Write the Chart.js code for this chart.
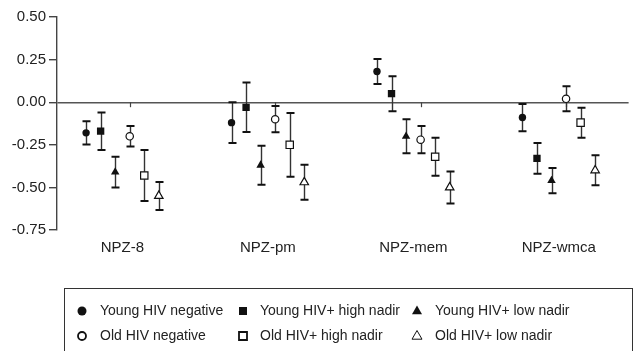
<!DOCTYPE html>
<html>
<head>
<meta charset="utf-8">
<script src="https://cdn.jsdelivr.net/npm/chart.js@4.4.1/dist/chart.umd.min.js"></script>
<style>
  body { margin: 0; background: #fff; }
  #wrap { width: 635px; height: 351px; }
</style>
</head>
<body>
<div id="wrap"><canvas id="chart" width="635" height="351"></canvas></div>
<script>
// categories and tick labels
const categories = ['NPZ-8', 'NPZ-pm', 'NPZ-mem', 'NPZ-wmca'];
const yTicks = [0.5, 0.25, 0, -0.25, -0.5, -0.75];
const seriesNames = [
    'Young HIV negative', 'Young HIV+ high nadir', 'Young HIV+ low nadir',
    'Old HIV negative', 'Old HIV+ high nadir', 'Old HIV+ low nadir'
];

// means and half-widths of the error bars, one value per category
const youngNegMean = [-0.18, -0.12, 0.18, -0.09];
const youngNegErr = [0.068, 0.12, 0.073, 0.08];
const youngHighMean = [-0.17, -0.03, 0.05, -0.33];
const youngHighErr = [0.11, 0.145, 0.103, 0.09];
const youngLowMean = [-0.41, -0.37, -0.20, -0.46];
const youngLowErr = [0.09, 0.115, 0.10, 0.074];
const oldNegMean = [-0.20, -0.10, -0.22, 0.02];
const oldNegErr = [0.06, 0.077, 0.08, 0.073];
const oldHighMean = [-0.43, -0.25, -0.32, -0.12];
const oldHighErr = [0.15, 0.187, 0.112, 0.088];
const oldLowMean = [-0.55, -0.47, -0.50, -0.40];
const oldLowErr = [0.082, 0.103, 0.094, 0.088];

const means = [youngNegMean, youngHighMean, youngLowMean, oldNegMean, oldHighMean, oldLowMean];
const errs = [youngNegErr, youngHighErr, youngLowErr, oldNegErr, oldHighErr, oldLowErr];
const shapes = ['circle', 'rect', 'triangle', 'circle', 'rect', 'triangle'];
const filled = [true, true, true, false, false, false];

const groupStep = 0.1;   // spacing of the six groups inside a category
const radii = { circle: 3.7, rect: 5.2, triangle: 4.9 };
const FONT = '"Liberation Sans", Arial, Helvetica, sans-serif';

const datasets = seriesNames.map((name, si) => ({
    label: name,
    data: categories.map((c, ci) => ({
        x: ci + (si - 2.5) * groupStep,
        y: means[si][ci],
        err: errs[si][ci]
    })),
    pointStyle: shapes[si],
    pointRadius: radii[shapes[si]],
    pointHoverRadius: radii[shapes[si]],
    backgroundColor: filled[si] ? '#111' : '#fff',
    borderColor: '#111',
    borderWidth: filled[si] ? 0 : 1.2
}));

// error bars under the markers, small ticks on the zero line
const errorBars = {
    id: 'errorBars',
    beforeDatasetsDraw(chart) {
        const ctx = chart.ctx;
        const xs = chart.scales.x, ys = chart.scales.y;
        ctx.save();
        const z = ys.getPixelForValue(0);
        ctx.strokeStyle = '#444';
        ctx.lineWidth = 1.2;
        categories.forEach((c, ci) => {
            const px = Math.round(xs.getPixelForValue(ci + 0.05)) + 0.5;
            ctx.beginPath();
            ctx.moveTo(px, z);
            ctx.lineTo(px, z + 5);
            ctx.stroke();
        });
        chart.data.datasets.forEach(ds => {
            ds.data.forEach(p => {
                const px = Math.round(xs.getPixelForValue(p.x)) + 0.5;
                const top = ys.getPixelForValue(p.y + p.err);
                const bot = ys.getPixelForValue(p.y - p.err);
                ctx.strokeStyle = '#333';
                ctx.lineWidth = 1.4;
                ctx.beginPath();
                ctx.moveTo(px, top);
                ctx.lineTo(px, bot);
                ctx.stroke();
                ctx.strokeStyle = '#111';
                ctx.lineWidth = 2;
                ctx.beginPath();
                ctx.moveTo(px - 4, top);
                ctx.lineTo(px + 4, top);
                ctx.moveTo(px - 4, bot);
                ctx.lineTo(px + 4, bot);
                ctx.stroke();
            });
        });
        ctx.restore();
    }
};

function drawMarker(ctx, shape, fill, x, y) {
    ctx.beginPath();
    if (shape === 'circle') {
        ctx.arc(x, y, fill ? 4.5 : 4, 0, Math.PI * 2);
    } else if (shape === 'rect') {
        ctx.rect(x - 4, y - 4, 8, 8);
    } else {
        ctx.moveTo(x, y - 5.5);
        ctx.lineTo(x + 5, y + 3.2);
        ctx.lineTo(x - 5, y + 3.2);
        ctx.closePath();
    }
    ctx.fillStyle = fill ? '#111' : '#fff';
    ctx.fill();
    if (!fill) {
        ctx.strokeStyle = '#111';
        ctx.lineWidth = shape === 'triangle' ? 1 : 1.8;
        ctx.stroke();
    }
}

// boxed legend, two rows of three
const boxLegend = {
    id: 'boxLegend',
    afterDraw(chart) {
        const ctx = chart.ctx;
        ctx.save();
        ctx.strokeStyle = '#333';
        ctx.lineWidth = 1;
        ctx.strokeRect(64.5, 288.5, 568, 80);
        const colMarker = [82, 243, 417];
        const colText = [100, 260, 435];
        const rowY = [311, 336];
        ctx.font = '14px ' + FONT;
        ctx.textBaseline = 'middle';
        seriesNames.forEach((name, si) => {
            const col = si % 3, row = Math.floor(si / 3);
            drawMarker(ctx, shapes[si], filled[si], colMarker[col], rowY[row]);
            ctx.fillStyle = '#222';
            ctx.fillText(name, colText[col], rowY[row]);
        });
        ctx.restore();
    }
};

new Chart(document.getElementById('chart'), {
    type: 'scatter',
    data: { datasets: datasets },
    plugins: [errorBars, boxLegend],
    options: {
        responsive: false,
        animation: false,
        layout: { padding: { top: 17, right: 0, left: 0, bottom: 0 } },
        plugins: {
            legend: { display: false },
            tooltip: { enabled: false }
        },
        scales: {
            x: {
                type: 'linear',
                min: -0.45,
                max: 3.48,
                afterBuildTicks: function(scale) {
                    scale.ticks = categories.map((c, i) => ({ value: i }));
                },
                afterFit: function(scale) {
                    scale.height = 121;
                },
                ticks: {
                    autoSkip: false,
                    maxRotation: 0,
                    padding: 9,
                    color: '#222',
                    font: { family: FONT, size: 15 },
                    callback: function(value) {
                        return categories[value];
                    }
                },
                grid: { display: false, drawTicks: false },
                border: { display: false }
            },
            y: {
                min: -0.75,
                max: 0.5,
                afterBuildTicks: function(scale) {
                    scale.ticks = yTicks.map(v => ({ value: v }));
                },
                afterFit: function(scale) {
                    scale.width = 57;
                },
                ticks: {
                    padding: 3,
                    color: '#222',
                    font: { family: FONT, size: 15 },
                    callback: function(value) {
                        return value.toFixed(2);
                    }
                },
                grid: {
                    color: ctx => (ctx.tick && ctx.tick.value === 0) ? '#555' : 'rgba(0,0,0,0)',
                    tickColor: '#444',
                    tickLength: 8,
                    lineWidth: 1.4
                },
                border: { display: true, color: '#444', width: 1.4 }
            }
        }
    }
});
</script>
</body>
</html>
